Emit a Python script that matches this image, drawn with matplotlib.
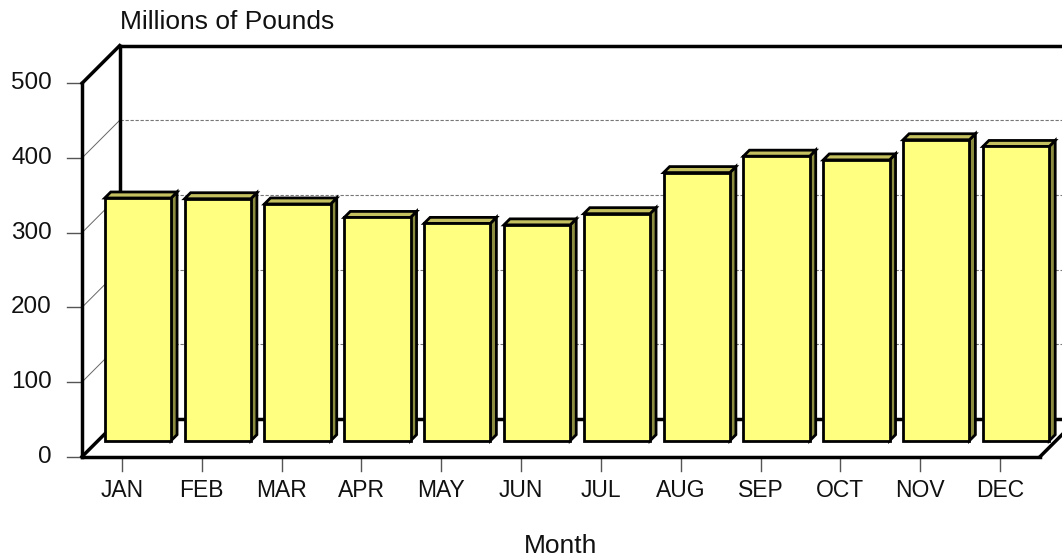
import matplotlib
matplotlib.use("Agg")
import matplotlib.pyplot as plt
from matplotlib.patches import Polygon

plt.rcParams['font.family'] = ['Liberation Sans', 'DejaVu Sans']

months = ["JAN", "FEB", "MAR", "APR", "MAY", "JUN", "JUL", "AUG", "SEP", "OCT", "NOV", "DEC"]
values = [325, 324, 317, 299, 291, 289, 304, 359, 381, 376, 403, 394]
yticks = [0, 100, 200, 300, 400, 500]

W, H = 1062, 560
fig = plt.figure(figsize=(W / 100, H / 100), dpi=100)
L, R, B, T = 82, 1040, 456.7, 83.3
ax = fig.add_axes([L / W, (H - B) / H, (R - L) / W, (B - T) / H])
n = len(months)
ax.set_xlim(-0.5, n - 0.5)
ax.set_ylim(0, 500)
ax.axis('off')

px_x = (R - L) / n          # pixels per category
px_y = (B - T) / 500        # pixels per unit

def P(x, v, d):
    """data point shifted back by depth d pixels (oblique projection)"""
    return (x + d / px_x, v + d / px_y)

WALL = 37.7
BD0, BD1 = 16, 22
BW = 0.83
x0, x1 = -0.5, n - 0.5
xfar = n + 0.5

# back wall gridlines
for v in yticks[1:-1]:
    a, b = P(x0, v, WALL), P(xfar, v, WALL)
    ax.plot([a[0], b[0]], [a[1], b[1]], color='#777777', lw=0.8, ls=(0, (3, 1.5)),
            clip_on=False, zorder=1)
    # left wall diagonal
    a, b = P(x0, v, 0), P(x0, v, WALL)
    ax.plot([a[0], b[0]], [a[1], b[1]], color='#666666', lw=0.7, clip_on=False, zorder=1)
for v in yticks:
    # front ticks
    ax.plot([x0 - 15 / px_x, x0], [v, v], color='#555555', lw=1.0, clip_on=False, zorder=1)

# back wall frame
for v in (0, 500):
    a, b = P(x0, v, WALL), P(xfar, v, WALL)
    ax.plot([a[0], b[0]], [a[1], b[1]], color='black', lw=2.5, clip_on=False, zorder=2,
            solid_capstyle='projecting')
    a, b = P(x0, v, 0), P(x0, v, WALL)
    ax.plot([a[0], b[0]], [a[1], b[1]], color='black', lw=2.5, clip_on=False, zorder=2)
a, b = P(x0, 0, WALL), P(x0, 500, WALL)
ax.plot([a[0], b[0]], [a[1], b[1]], color='black', lw=2.5, clip_on=False, zorder=2)

# front axis + floor
ax.plot([x0, x0], [0, 500], color='black', lw=2.5, clip_on=False, zorder=2)
ax.plot([x0, x1], [0, 0], color='black', lw=2.5, clip_on=False, zorder=2)
a, b = P(x1, 0, 0), P(x1, 0, WALL)
ax.plot([a[0], b[0]], [a[1], b[1]], color='black', lw=2.5, clip_on=False, zorder=2)

# bars
for i, v in enumerate(values):
    xl, xr = i - BW / 2, i + BW / 2
    side = [P(xr, 0, BD0), P(xr, v, BD0), P(xr, v, BD1), P(xr, 0, BD1)]
    top = [P(xl, v, BD0), P(xr, v, BD0), P(xr, v, BD1), P(xl, v, BD1)]
    front = [P(xl, 0, BD0), P(xr, 0, BD0), P(xr, v, BD0), P(xl, v, BD0)]
    for poly, fc in ((side, '#8c8c40'), (top, '#c4c060'), (front, '#ffff80')):
        ax.add_patch(Polygon(poly, closed=True, facecolor=fc, edgecolor='black', lw=2.0,
                             joinstyle='miter', clip_on=False, zorder=3))

# bottom ticks and labels
for i, m in enumerate(months):
    ax.plot([i, i], [0, -14 / px_y], color='#555555', lw=1.0, clip_on=False, zorder=1)
    ax.text(i, -34 / px_y, m, ha='center', va='center', fontsize=16.5, color='#111111')

for v in yticks:
    ax.text(x0 - 30 / px_x, v, str(v), ha='right', va='center', fontsize=17.5, color='#111111')

fig.text(120 / W, 1 - 22 / H, "Millions of Pounds", ha='left', va='center', fontsize=19,
         color='#111111')
fig.text(561 / W, 1 - 546 / H, "Month", ha='center', va='center', fontsize=19,
         color='#111111')

fig.savefig("out.png", dpi=100, facecolor='white')
